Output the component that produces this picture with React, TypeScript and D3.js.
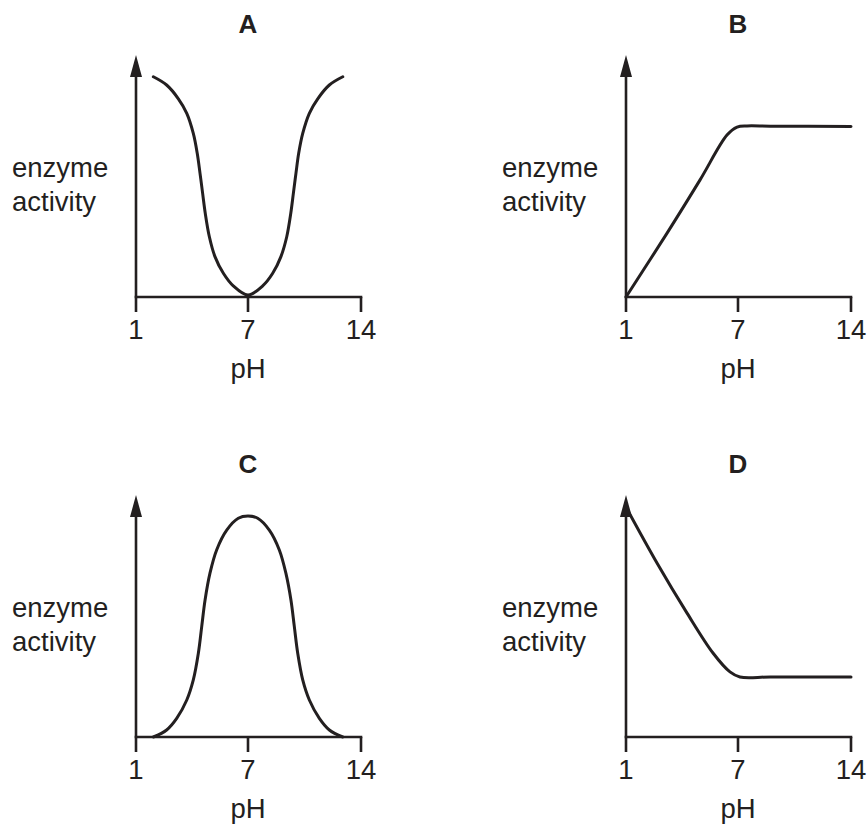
import React from "react";
import * as d3 from "d3";

const panelNames = ["A", "B", "C", "D"];
const xTicks = [1, 7, 14];
const xLabel = "pH";
const yLabelLines = ["enzyme", "activity"];

// pH, activity (0-100 on arbitrary axis)
const curveA_pH = [1.93, 2.64, 3.27, 3.72, 4.07, 4.28, 4.43, 4.57, 4.71, 4.93, 5.23, 5.68, 6.21, 7, 7.91, 8.53, 9.04, 9.4, 9.65, 9.81, 9.97, 10.14, 10.39, 10.8, 11.32, 12.04, 12.87];
const curveA_act = [91.0, 87.6, 81.9, 75.9, 67.6, 59.4, 51.1, 42.8, 34.6, 24.9, 16.7, 9.8, 4.6, 0.8, 4.6, 9.8, 16.7, 24.9, 34.6, 42.8, 51.1, 59.4, 67.6, 75.9, 81.9, 87.6, 91.0];

const curveB_pH = [1, 3.2, 4.96, 6.41, 6.95, 7.56, 9, 14];
const curveB_act = [0, 26.4, 48.3, 66.9, 70.2, 70.7, 70.6, 70.5];

const curveC_pH = [1.93, 2.64, 3.18, 3.72, 4.07, 4.34, 4.52, 4.7, 4.96, 5.32, 5.86, 6.48, 7, 7.6, 8.32, 8.94, 9.35, 9.66, 9.87, 10.08, 10.39, 10.8, 11.42, 12.04, 12.87];
const curveC_act = [0, 2.9, 7.7, 15.3, 23.6, 34.6, 45.6, 56.6, 67.6, 77.3, 85.5, 90.4, 91.3, 90.4, 85.5, 77.3, 67.6, 56.6, 45.6, 34.6, 23.6, 15.3, 7.7, 2.9, 0];

const curveD_pH = [1, 2.66, 4.27, 5.66, 6.57, 7.12, 9, 14];
const curveD_act = [95, 71.9, 51.2, 34.7, 26.9, 24.8, 24.8, 24.8];

const curves_pH = [curveA_pH, curveB_pH, curveC_pH, curveD_pH];
const curves_act = [curveA_act, curveB_act, curveC_act, curveD_act];

const INK = "#231f20";
const FONT = "'Liberation Sans', Arial, Helvetica, sans-serif";

const origins = [
  [136, 297],
  [626, 297],
  [136, 737],
  [626, 737],
];

const x = d3.scaleLinear().domain([1, 7, 14]).range([0, 112, 225]);
const y = d3.scaleLinear().domain([0, 100]).range([0, -242]);

function Panel({ idx }: { idx: number }) {
  const [ox, oy] = origins[idx];
  const pts: [number, number][] = curves_pH[idx].map((p, i) => [p, curves_act[idx][i]]);
  const line = d3
    .line<[number, number]>()
    .x((d) => x(d[0]))
    .y((d) => y(d[1]))
    .curve(d3.curveCatmullRom.alpha(0.5));
  const yTop = y(100);
  const xEnd = x(14);
  return (
    <g transform={`translate(${ox},${oy})`}>
      <text x={x(7)} y={-264} textAnchor="middle" fontSize={26} fontWeight="bold" fill={INK} fontFamily={FONT}>
        {panelNames[idx]}
      </text>
      {yLabelLines.map((t, i) => (
        <text key={t} x={-124} y={-120 + i * 34} fontSize={27.5} fill={INK} fontFamily={FONT}>
          {t}
        </text>
      ))}
      <path d={line(pts) || ""} fill="none" stroke={INK} strokeWidth={3} strokeLinejoin="round" strokeLinecap="round" />
      {/* y axis */}
      <line x1={0} y1={0} x2={0} y2={yTop + 18} stroke={INK} strokeWidth={2.6} />
      <path d={`M0,${yTop} L-6,${yTop + 22} L6,${yTop + 22} Z`} fill={INK} />
      {/* x axis */}
      <line x1={-1.3} y1={0} x2={xEnd + 1.3} y2={0} stroke={INK} strokeWidth={2.6} />
      {xTicks.map((t) => (
        <g key={t}>
          <line x1={x(t)} y1={0} x2={x(t)} y2={15} stroke={INK} strokeWidth={2.6} />
          <text x={x(t)} y={42} textAnchor="middle" fontSize={27.5} fill={INK} fontFamily={FONT}>
            {t}
          </text>
        </g>
      ))}
      <text x={x(7)} y={81} textAnchor="middle" fontSize={27.5} fill={INK} fontFamily={FONT}>
        {xLabel}
      </text>
    </g>
  );
}

export default function App() {
  return (
    <svg
      width={868}
      height={825}
      viewBox="0 0 868 825"
      style={{ position: "absolute", left: 0, top: 0, background: "#fff" }}
    >
      <rect width={868} height={825} fill="#fff" />
      {panelNames.map((_, i) => (
        <Panel key={i} idx={i} />
      ))}
    </svg>
  );
}
